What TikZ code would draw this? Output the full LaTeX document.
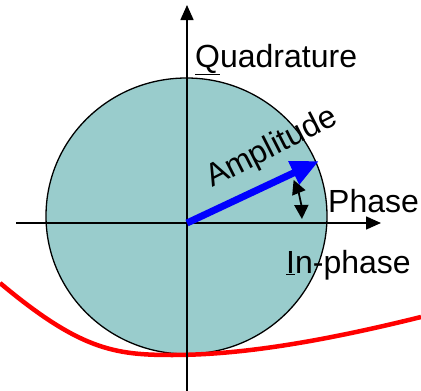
\documentclass[tikz,border=0pt]{standalone}
\usepackage{fontspec}
\setmainfont{Liberation Sans}
\usetikzlibrary{arrows.meta}
\definecolor{discfill}{RGB}{153,204,204}
\definecolor{curvered}{RGB}{255,0,0}
\definecolor{ampblue}{RGB}{0,0,255}
\tikzset{
  axisline/.style={line width=1.6pt,-{Triangle[length=15pt,width=13pt]}},
  label/.style={font=\fontsize{32}{36}\selectfont,inner sep=0pt},
  disc/.style={fill=discfill,draw=black,line width=1.3pt},
}
\begin{document}
\begin{tikzpicture}[x=1pt,y=-1pt]
\useasboundingbox (0,0) rectangle (421,391);
% disc
\draw[disc] (186.5,216) ellipse [x radius=140.5, y radius=138];
% red curve
\coordinate (r0) at (0,283);
\coordinate (r1) at (172,355);
\coordinate (r2) at (421,317);
\draw[curvered,line width=4.5pt] (r0) .. controls (80,350) and (115,355) .. (r1) .. controls (240,355) and (320,342) .. (r2);
% axes
\coordinate (o) at (187,223);
\coordinate (xl) at (16,223);
\coordinate (xr) at (381,223);
\coordinate (yb) at (187,391);
\coordinate (yt) at (187,5);
\draw[axisline] (xl) -- (xr);
\draw[axisline] (yb) -- (yt);
% amplitude vector
\coordinate (tip) at (319,161);
\draw[ampblue,line width=7pt,-{Triangle[length=28pt,width=24pt]}] (o) -- (tip);
% phase angle arrow
\draw[line width=1.8pt,{Triangle[length=14pt,width=14pt]}-{Triangle[length=14pt,width=14pt]}] (o) ++(22:115 and -115) coordinate (pa) arc[start angle=-22,end angle=-2,radius=115];
% labels
\node[label,anchor=base west] (quad) at (195,67) {\underline{Q}uadrature};
\node[label,anchor=base west] (phase) at (328,212) {Phase};
\node[label,anchor=base west] (inph) at (286,273) {\underline{I}n-phase};
\node[label,anchor=base west,rotate=27] (amp) at (212,188) {Amplitude};
\end{tikzpicture}
\end{document}
